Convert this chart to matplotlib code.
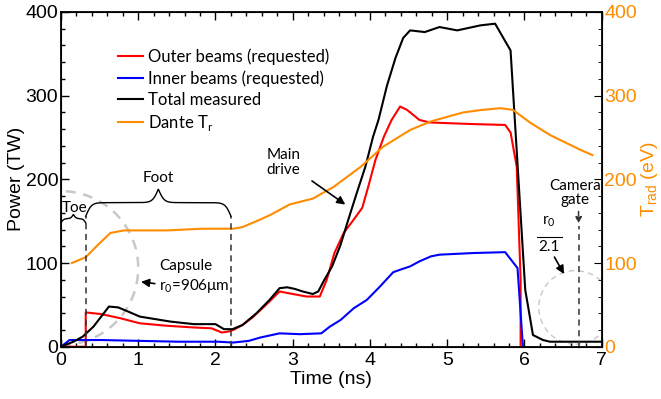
import numpy as np
import matplotlib
matplotlib.use("Agg")
from matplotlib import pyplot as plt
from matplotlib.patches import Ellipse
from matplotlib.ticker import MultipleLocator

# curves (time in ns, power in TW / Trad in eV)
t_outer = [0, 0.32, 0.32, 0.52, 0.77, 1.02, 1.38, 1.72, 1.95, 2.08, 2.16, 2.23, 2.35, 2.48, 2.63,
           2.83, 3.0, 3.18, 3.35, 3.44, 3.54, 3.66, 3.79, 3.9, 3.98, 4.07, 4.18, 4.28, 4.39, 4.48,
           4.64, 4.77, 5.05, 5.35, 5.75, 5.82, 5.9, 5.95, 5.95]
p_outer = [0, 0, 41, 39, 34, 28, 25, 23, 22, 17, 18, 20, 26, 35, 48,
           66, 63, 60, 60, 80, 112, 136, 152, 166, 192, 223, 251, 271, 287, 283,
           271, 268, 267, 266, 265, 256, 215, 80, 0]

t_inner = [0, 0.11, 0.52, 1.02, 1.52, 2.03, 2.23, 2.43, 2.58, 2.73, 2.83, 3.09, 3.37, 3.48,
           3.62, 3.79, 3.96, 4.13, 4.3, 4.39, 4.52, 4.64, 4.79, 4.9, 5.35, 5.75, 5.91, 5.98]
p_inner = [0, 8, 8, 7, 6, 6, 5, 7, 11, 14, 16, 15, 16, 24,
           32, 46, 56, 72, 89, 92, 96, 102, 108, 110, 112, 113, 94, 0]

t_total = [0, 0.16, 0.28, 0.42, 0.62, 0.74, 0.87, 1.02, 1.22, 1.42, 1.72, 2.0, 2.11, 2.22,
           2.35, 2.53, 2.7, 2.83, 2.93, 3.03, 3.13, 3.26, 3.33, 3.41, 3.51, 3.62, 3.72, 3.83,
           3.94, 4.04, 4.11, 4.22, 4.33, 4.43, 4.52, 4.71, 4.9, 5.13, 5.33, 5.43, 5.62, 5.82,
           6.01, 6.11, 6.24, 6.33, 7.0]
p_total = [0, 6, 12, 24, 48, 47, 42, 36, 33, 30, 27, 27, 21, 21,
           26, 40, 56, 70, 71, 69, 66, 63, 66, 80, 96, 122, 152, 184,
           215, 251, 271, 312, 345, 369, 378, 376, 382, 378, 382, 384, 386, 354,
           68, 14, 8, 6, 6]

t_dante = [0.14, 0.32, 0.47, 0.64, 0.82, 1.38, 1.82, 2.23, 2.35, 2.58, 2.7, 2.96, 3.26, 3.53,
           3.88, 4.17, 4.52, 4.78, 5.05, 5.21, 5.45, 5.69, 5.85, 6.07, 6.33, 6.73, 6.88]
trad_dante = [100, 107, 121, 136, 139, 139, 141, 141, 143, 152, 157, 170, 177, 191,
              215, 239, 259, 269, 276, 280, 283, 285, 283, 268, 253, 235, 229]

t_toe = 0.32
t_foot_end = 2.2
t_camera = 6.7

orange = '#ff8c00'
tick_font = 'Liberation Sans'
note_font = 'Lato'
dash = (0, (4, 3))


def brace(ax, x0, x1, y0, h, beta=27):
    # curly brace, tip up
    n = 300
    x = np.linspace(x0, x1, 2 * n)
    xm = (x0 + x1) / 2
    half = x[:n]
    raw = 1 / (1 + np.exp(-beta * (half - x0))) + 1 / (1 + np.exp(-beta * (half - xm)))
    raw = (raw - raw[0]) / (raw[-1] - raw[0])
    y = y0 + h * np.concatenate([raw, raw[::-1]])
    ax.plot(x, y, color='k', lw=1.0)


fig = plt.figure(figsize=(6.61, 3.99), dpi=100)
ax = fig.add_axes([0.0923, 0.131, 0.818, 0.839])

ax.plot(t_outer, p_outer, color='#ff0000', lw=1.5, label='Outer beams (requested)')
ax.plot(t_inner, p_inner, color='#0000ff', lw=1.5, label='Inner beams (requested)')
ax.plot(t_total, p_total, color='k', lw=1.5, label='Total measured')
ax.plot(t_dante, trad_dante, color=orange, lw=1.5, label=r'Dante T$_\mathregular{r}$')

ax.set_xlim(0, 7)
ax.set_ylim(0, 400)
ax.xaxis.set_major_locator(MultipleLocator(1))
ax.xaxis.set_minor_locator(MultipleLocator(0.2))
ax.yaxis.set_major_locator(MultipleLocator(100))
ax.yaxis.set_minor_locator(MultipleLocator(20))
ax.tick_params(which='both', direction='in', top=True, right=False, width=1.0)
ax.tick_params(which='major', length=6, labelsize=14)
ax.tick_params(axis='y', pad=2)
ax.tick_params(which='minor', length=3)
for lab in ax.get_xticklabels() + ax.get_yticklabels():
    lab.set_family(tick_font)
for s in ax.spines.values():
    s.set_linewidth(1.3)
ax.set_xlabel('Time (ns)', fontsize=14, family=tick_font, labelpad=2)
ax.set_ylabel('Power (TW)', fontsize=14, family=tick_font, labelpad=0)

ax2 = ax.twinx()
ax2.set_ylim(0, 400)
ax2.yaxis.set_major_locator(MultipleLocator(100))
ax2.yaxis.set_minor_locator(MultipleLocator(20))
ax2.tick_params(which='both', direction='in', colors='k', labelcolor=orange)
ax2.tick_params(which='major', length=6, labelsize=14, pad=2)
ax2.tick_params(which='minor', length=3)
for lab in ax2.get_yticklabels():
    lab.set_family(tick_font)
ax2.set_ylabel(r'T$_\mathregular{rad}$ (eV)', fontsize=14, family=tick_font, color=orange,
               labelpad=1)

leg = ax.legend(loc='upper left', bbox_to_anchor=(0.078, 0.935), frameon=False,
                handlelength=1.5, handletextpad=0.3, labelspacing=0.3,
                prop={'family': note_font, 'size': 12})

# capsule circles
ax.add_patch(Ellipse((0, 94), 2.0, 184, fill=False, ls=dash, lw=1.8, color='#c8c8c8'))
ax.add_patch(Ellipse((6.66, 47), 0.95, 88, fill=False, ls=dash, lw=1.0, color='#c8c8c8'))

# phase markers
ax.plot([t_toe, t_toe], [0, 156], color='#333333', lw=1.1, ls=dash)
ax.plot([t_foot_end, t_foot_end], [0, 156], color='#333333', lw=1.1, ls=dash)
brace(ax, 0, t_toe, 148, 10, beta=60)
brace(ax, t_toe, t_foot_end, 156, 32)
ax.text(0.17, 166, 'Toe', ha='center', va='center', family=note_font, fontsize=11)
ax.text(1.26, 202, 'Foot', ha='center', va='center', family=note_font, fontsize=11)

ax.text(1.27, 96, 'Capsule', ha='left', va='center', family=note_font, fontsize=11)
ax.text(1.27, 73, r'r$_\mathregular{0}$=906$\mathregular{\mu}$m', ha='left', va='center',
        family=note_font, fontsize=11)
ax.annotate('', xy=(1.0, 78), xytext=(1.25, 75),
            arrowprops=dict(arrowstyle='-|>', color='k', lw=1.2, mutation_scale=12))

ax.text(2.88, 220, 'Main\ndrive', ha='center', va='center', family=note_font, fontsize=11,
        linespacing=1.1)
ax.annotate('', xy=(3.71, 168), xytext=(3.22, 200),
            arrowprops=dict(arrowstyle='-|>', color='k', lw=1.2, mutation_scale=12))

# camera gate
ax.text(6.66, 184, 'Camera\ngate', ha='center', va='center', family=note_font, fontsize=11,
        linespacing=1.0)
ax.annotate('', xy=(t_camera, 144), xytext=(t_camera, 165),
            arrowprops=dict(arrowstyle='-|>', color='#333333', lw=1.1, ls=(0, (3, 2)),
                            mutation_scale=9))
ax.plot([t_camera, t_camera], [0, 144], color='#333333', lw=1.1, ls=dash)

ax.text(6.32, 149, r'r$_\mathregular{0}$', ha='center', va='center', family=note_font, fontsize=11)
ax.plot([6.16, 6.49], [131, 131], color='k', lw=0.8)
ax.text(6.32, 119, '2.1', ha='center', va='center', family=note_font, fontsize=11)
ax.annotate('', xy=(6.53, 84), xytext=(6.37, 110),
            arrowprops=dict(arrowstyle='-|>', color='k', lw=1.2, mutation_scale=12))

fig.savefig('out.png', dpi=100)
